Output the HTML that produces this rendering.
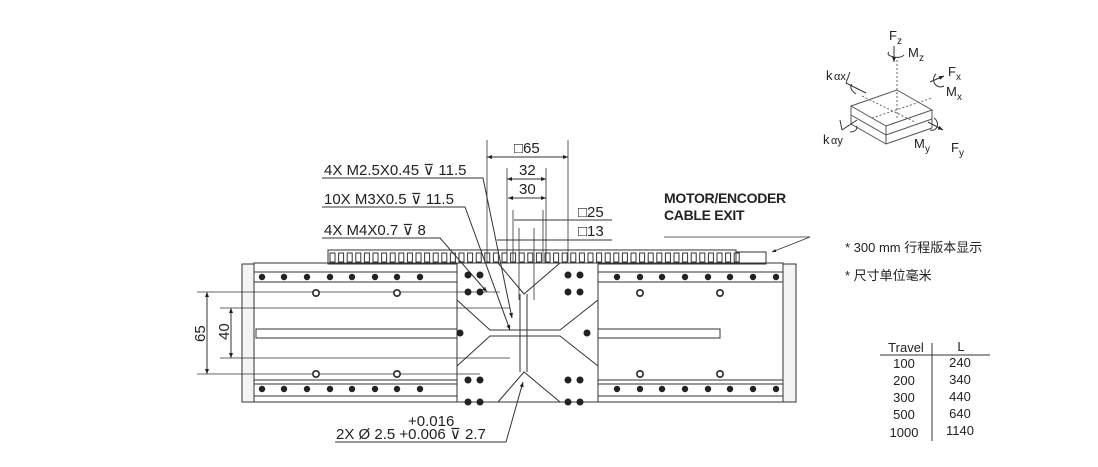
<!DOCTYPE html>
<html><head><meta charset="utf-8"><style>
body{margin:0;background:#fff;width:1098px;height:462px;overflow:hidden}
text{font-family:"Liberation Sans","Noto Sans CJK SC",sans-serif;fill:#222}
</style></head><body>
<svg width="1098" height="462" viewBox="0 0 1098 462" xmlns="http://www.w3.org/2000/svg">
<defs>
<marker id="a" viewBox="0 0 10 10" refX="10" refY="5" markerWidth="7" markerHeight="5" orient="auto-start-reverse"><path d="M0,1 L10,5 L0,9z" fill="#222"/></marker>
</defs>
<g stroke="#333" fill="none" stroke-width="1">
<rect x="328" y="250" width="408" height="14" fill="#fff"/>
<g id="ch"></g>
<rect x="736" y="252" width="30" height="12"/>
<rect x="242" y="264" width="12" height="138" fill="#f4f4f4"/>
<rect x="783" y="264" width="13" height="138" fill="#f4f4f4"/>
<rect x="254" y="263" width="529" height="139"/>
<line x1="254" y1="272" x2="783" y2="272"/><line x1="254" y1="282" x2="783" y2="282"/>
<line x1="254" y1="380" x2="783" y2="380"/><line x1="254" y1="384" x2="783" y2="384"/><line x1="254" y1="396" x2="783" y2="396"/>
<rect x="256" y="329" width="464" height="9"/>
<rect x="457" y="263" width="141" height="139" fill="#fff"/>
<path d="M457,300 L490,330 L560,330 L598,300 M457,366 L490,336 L560,336 L598,366 M498,263 L524,294 L560,263 M498,402 L524,372 L560,402"/>
<line x1="520" y1="294" x2="520" y2="372"/><line x1="527" y1="294" x2="527" y2="372"/>
<line x1="487" y1="140" x2="487" y2="262" stroke-width=".8"/><line x1="568" y1="140" x2="568" y2="262" stroke-width=".8"/>
<line x1="487" y1="157" x2="568" y2="157" marker-start="url(#a)" marker-end="url(#a)"/>
<line x1="507" y1="168" x2="507" y2="262" stroke-width=".8"/><line x1="546" y1="168" x2="546" y2="262" stroke-width=".8"/>
<line x1="507" y1="179" x2="546" y2="179" marker-start="url(#a)" marker-end="url(#a)"/>
<line x1="508" y1="198" x2="546" y2="198" marker-start="url(#a)" marker-end="url(#a)"/>
<line x1="513" y1="210" x2="513" y2="262" stroke-width=".8"/><line x1="543" y1="210" x2="543" y2="262" stroke-width=".8"/>
<line x1="514" y1="220" x2="612" y2="220"/>
<line x1="497" y1="240" x2="612" y2="240"/>
<line x1="519" y1="228" x2="519" y2="300" stroke-width=".8"/><line x1="534" y1="228" x2="534" y2="300" stroke-width=".8"/>
<path d="M322,178 L483,178 L512,318" marker-end="url(#a)"/>
<path d="M322,207 L465,207 L510,330" marker-end="url(#a)"/>
<path d="M322,238 L440,238 L487,292" marker-end="url(#a)"/>
<path d="M335,442 L506,442 L523,382" marker-end="url(#a)"/>
<path d="M664,237 L810,237 L772,252" marker-end="url(#a)" stroke-width=".8"/>
<line x1="197" y1="292" x2="500" y2="292" stroke-width=".7"/><line x1="197" y1="374" x2="480" y2="374" stroke-width=".7"/>
<line x1="220" y1="308" x2="510" y2="308" stroke-width=".7"/><line x1="220" y1="358" x2="510" y2="358" stroke-width=".7"/>
<line x1="207" y1="292" x2="207" y2="374" marker-start="url(#a)" marker-end="url(#a)"/>
<line x1="231" y1="308" x2="231" y2="358" marker-start="url(#a)" marker-end="url(#a)"/>
<line x1="880" y1="355" x2="990" y2="355"/><line x1="932" y1="343" x2="932" y2="441"/>
<path d="M851,106 L897,90 L932,110 L886,126 Z M851,106 L851,115 L886,135 L932,119 L932,110 M851,115 L851,124 L886,144 L932,128 L932,119 M886,126 L886,144" stroke="#555"/>
<path d="M897,60 L897,118 M872,118 L932,98 M862,96 L915,122" stroke="#666" stroke-dasharray="2,2"/>
<line x1="894" y1="46" x2="894" y2="62" marker-end="url(#a)"/>
<path d="M889,52 C884,56 900,60 904,55" />
<line x1="930" y1="82" x2="944" y2="76" marker-end="url(#a)"/>
<path d="M936,74 C930,80 936,90 944,86"/>
<line x1="928" y1="122" x2="943" y2="130" marker-end="url(#a)"/>
<path d="M934,118 C940,122 938,132 930,130"/>
<path d="M846,83 L866,93 M846,83 L850,72 M856,94 C850,90 850,86 852,84"/>
<path d="M842,130 L857,120 M842,130 L840,120 M850,132 C856,132 858,128 856,126"/>
</g>
<g fill="#222" id="holes"></g>
<g font-size="15">
<text x="514" y="153">□65</text><text x="519" y="175">32</text><text x="519" y="194">30</text>
<text x="578" y="217">□25</text><text x="578" y="236">□13</text>
<text x="324" y="175">4X M2.5X0.45 ⊽ 11.5</text>
<text x="324" y="204">10X M3X0.5 ⊽ 11.5</text>
<text x="324" y="235">4X M4X0.7 ⊽ 8</text>
<text x="408" y="426">+0.016</text>
<text x="336" y="439">2X  Ø 2.5 +0.006 ⊽ 2.7</text>
<text x="664" y="203" font-weight="bold" font-size="14" letter-spacing="-0.3">MOTOR/ENCODER</text>
<text x="664" y="220" font-weight="bold" font-size="14" letter-spacing="-0.3">CABLE EXIT</text>
<text x="845" y="252" font-size="13">* 300 mm 行程版本显示</text>
<text x="845" y="280" font-size="13">* 尺寸单位毫米</text>
<text transform="translate(205,342) rotate(-90)">65</text>
<text transform="translate(229,340) rotate(-90)">40</text>
</g>
<g font-size="13" text-anchor="middle">
<text x="906" y="352">Travel</text><text x="961" y="351">L</text>
<text x="904" y="368">100</text><text x="960" y="367">240</text>
<text x="904" y="385">200</text><text x="960" y="384">340</text>
<text x="904" y="402">300</text><text x="960" y="401">440</text>
<text x="904" y="419">500</text><text x="960" y="418">640</text>
<text x="904" y="437">1000</text><text x="960" y="435">1140</text>
</g>
<g font-size="13">
<text x="889" y="40">F</text><text x="897" y="44" font-size="10">z</text>
<text x="908" y="57">M</text><text x="919" y="61" font-size="10">z</text>
<text x="948" y="76">F</text><text x="956" y="80" font-size="10">x</text>
<text x="946" y="96">M</text><text x="957" y="100" font-size="10">x</text>
<text x="826" y="80">k</text><text x="834" y="80" font-size="11">αx</text>
<text x="823" y="144">k</text><text x="831" y="144" font-size="11">αy</text>
<text x="914" y="148">M</text><text x="925" y="152" font-size="10">y</text>
<text x="951" y="152">F</text><text x="959" y="156" font-size="10">y</text>
</g>
<script>
var ns="http://www.w3.org/2000/svg",ch=document.getElementById("ch"),h=document.getElementById("holes");
for(var x=330;x<736;x+=8.6){var r=document.createElementNS(ns,"rect");r.setAttribute("x",x);r.setAttribute("y",253);r.setAttribute("width",5);r.setAttribute("height",9);ch.appendChild(r);}
function c(x,y,r,f){var e=document.createElementNS(ns,"circle");e.setAttribute("cx",x);e.setAttribute("cy",y);e.setAttribute("r",r);if(f)e.setAttribute("fill",f);h.appendChild(e);}
var xs=[262,284,307,330,352,375,397,420,617,640,662,685,708,730,753,776];
xs.forEach(function(x){c(x,277,3.2);c(x,389,3.2);});
[316,397,640,720].forEach(function(x){c(x,293,4,"#333");c(x,293,2.3,"#fff");c(x,374,4,"#333");c(x,374,2.3,"#fff");});
[[468,275],[480,275],[468,402],[480,402],[568,275],[580,275],[568,402],[580,402],[468,292],[480,292],[580,292],[568,292],[468,380],[480,380],[568,380],[580,380],[460,333],[587,333]].forEach(function(p){c(p[0],p[1],3.5);});
</script>
</svg>
</body></html>
